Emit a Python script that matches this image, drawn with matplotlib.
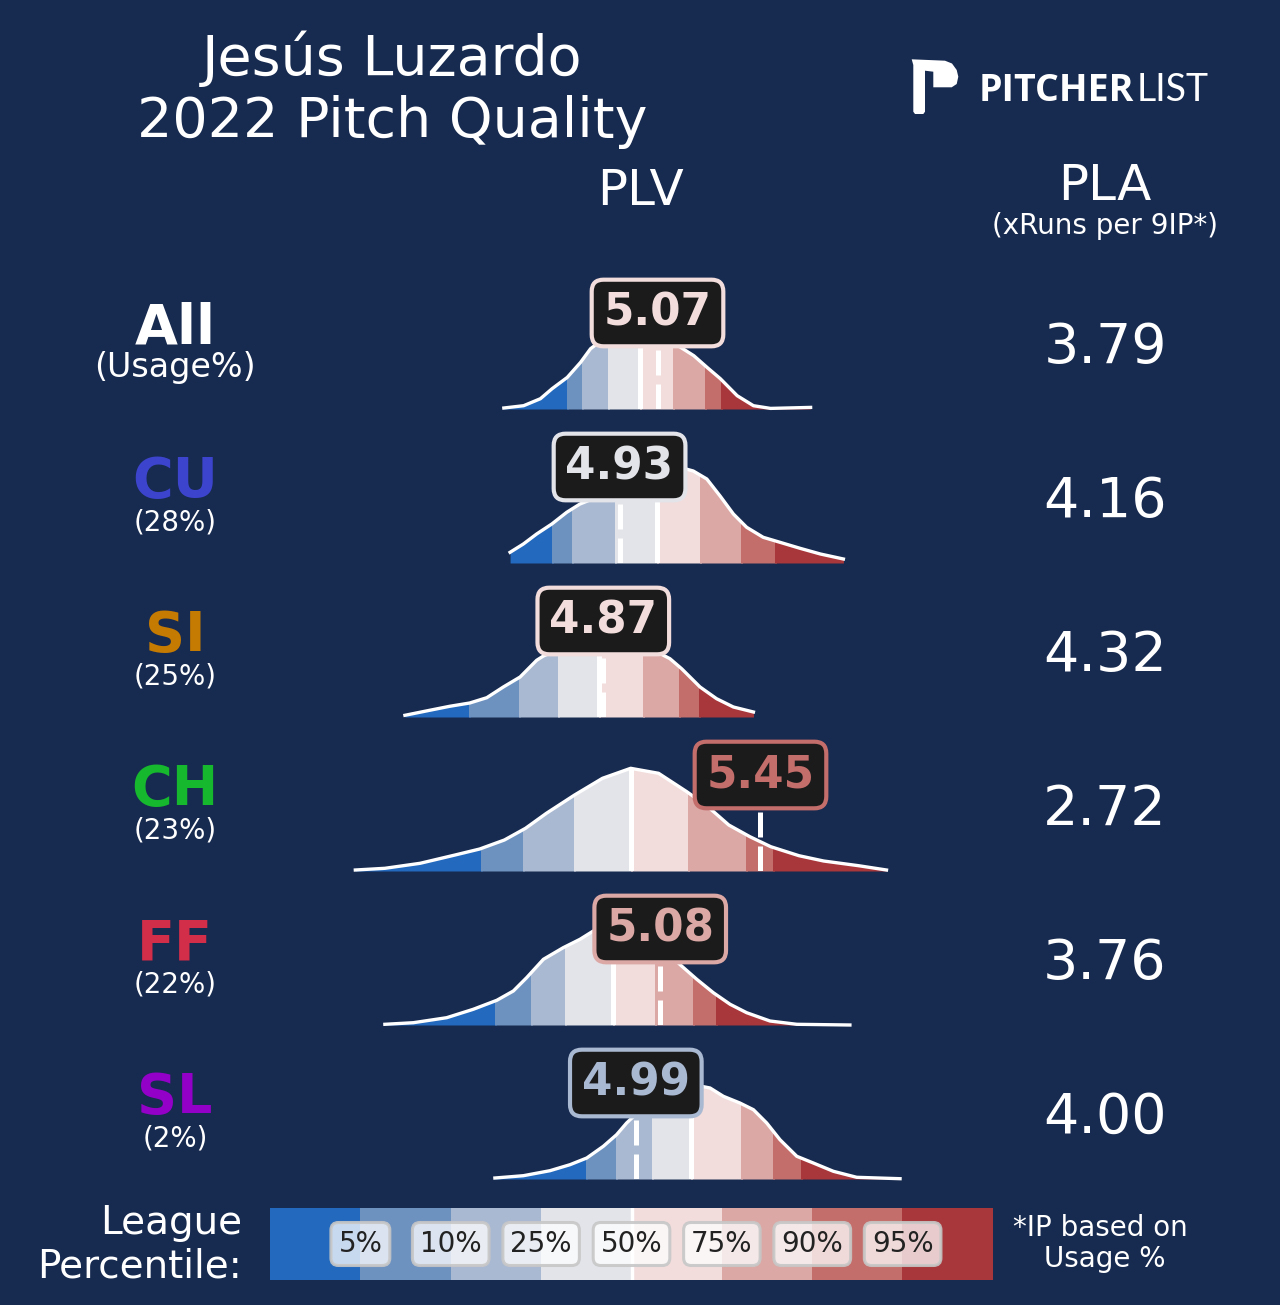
import numpy as np
import matplotlib
matplotlib.use("Agg")
import matplotlib.pyplot as plt
from matplotlib.patches import Polygon, Rectangle
from matplotlib.colors import ListedColormap

# ---------------- data ----------------
player = "Jesús Luzardo"
season = 2022
pitch_types = ["All", "CU", "SI", "CH", "FF", "SL"]
pitch_colors = ["#FFFFFF", "#3C44CD", "#C57A02", "#16B82E", "#D22D49", "#9300C7"]
usage = [None, 28, 25, 23, 22, 2]
plv = [5.07, 4.93, 4.87, 5.45, 5.08, 4.99]
pla = [3.79, 4.16, 4.32, 2.72, 3.76, 4.00]
pct_labels = ["5%", "10%", "25%", "50%", "75%", "90%", "95%"]
band_colors = ["#2369BD", "#6E92C0", "#AAB9D2", "#E3E4EA",
               "#F2DDDC", "#DBA8A5", "#C46E6B", "#A8373B"]

# league percentile cut points (5,10,25,50,75,90,95) of PLV per pitch type
bounds_all = [4.737, 4.792, 4.888, 5.005, 5.126, 5.246, 5.303]
bounds_cu = [4.680, 4.753, 4.913, 5.067, 5.227, 5.378, 5.504]
bounds_si = [4.375, 4.560, 4.702, 4.855, 5.018, 5.150, 5.223]
bounds_ch = [4.417, 4.575, 4.761, 4.971, 5.182, 5.398, 5.495]
bounds_ff = [4.470, 4.602, 4.729, 4.907, 5.061, 5.202, 5.286]
bounds_sl = [4.806, 4.917, 5.049, 5.194, 5.377, 5.495, 5.598]

# league PLV density curves (x = PLV, y = relative density)
dens_x_all = [4.503, 4.576, 4.638, 4.681, 4.737, 4.786, 4.823, 4.89, 4.96, 5.01,
              5.07, 5.13, 5.204, 5.253, 5.302, 5.364, 5.424, 5.487, 5.635]
dens_y_all = [0.010, 0.033, 0.103, 0.203, 0.316, 0.466, 0.603, 0.74, 0.80, 0.81,
              0.77, 0.66, 0.533, 0.416, 0.303, 0.133, 0.033, 0.006, 0.016]
dens_x_cu = [4.526, 4.575, 4.624, 4.680, 4.735, 4.784, 4.858, 4.932, 5.005, 5.079,
             5.135, 5.202, 5.252, 5.301, 5.350, 5.399, 5.460, 5.522, 5.596, 5.671, 5.756]
dens_y_cu = [0.107, 0.19, 0.29, 0.39, 0.507, 0.59, 0.67, 0.76, 0.86, 0.95,
             0.97, 0.92, 0.84, 0.67, 0.49, 0.357, 0.257, 0.207, 0.147, 0.09, 0.04]
dens_x_si = [4.138, 4.229, 4.303, 4.377, 4.440, 4.501, 4.563, 4.624, 4.649, 4.710,
             4.803, 4.876, 4.969, 5.061, 5.116, 5.159, 5.227, 5.288, 5.350, 5.424]
dens_y_si = [0.017, 0.067, 0.107, 0.14, 0.193, 0.30, 0.40, 0.567, 0.61, 0.68,
             0.77, 0.80, 0.76, 0.66, 0.583, 0.483, 0.30, 0.183, 0.10, 0.05]
dens_x_ch = [3.955, 4.064, 4.194, 4.323, 4.414, 4.505, 4.583, 4.660, 4.764, 4.867,
             4.971, 5.074, 5.178, 5.256, 5.333, 5.411, 5.488, 5.592, 5.683, 5.812, 5.915]
dens_y_ch = [0.01, 0.027, 0.077, 0.16, 0.22, 0.31, 0.427, 0.577, 0.76, 0.927,
             1.027, 0.977, 0.793, 0.643, 0.46, 0.343, 0.243, 0.153, 0.10, 0.053, 0.01]
dens_x_ff = [4.064, 4.169, 4.292, 4.390, 4.477, 4.538, 4.587, 4.649, 4.722, 4.784,
             4.833, 4.895, 4.969, 5.042, 5.098, 5.159, 5.215, 5.276, 5.338, 5.399,
             5.485, 5.584, 5.780]
dens_y_ff = [0.007, 0.023, 0.073, 0.157, 0.247, 0.34, 0.473, 0.657, 0.773, 0.857,
             0.94, 0.99, 0.97, 0.86, 0.74, 0.59, 0.457, 0.323, 0.207, 0.123,
             0.04, 0.007, 0.0]
dens_x_sl = [4.470, 4.575, 4.673, 4.747, 4.809, 4.870, 4.919, 4.956, 5.042, 5.116,
             5.190, 5.264, 5.313, 5.374, 5.424, 5.473, 5.522, 5.584, 5.645, 5.719,
             5.805, 5.965]
dens_y_sl = [0.01, 0.033, 0.083, 0.143, 0.21, 0.327, 0.443, 0.56, 0.78, 0.90,
             0.95, 0.91, 0.827, 0.76, 0.693, 0.56, 0.393, 0.227, 0.16, 0.077,
             0.017, 0.003]

bounds = [bounds_all, bounds_cu, bounds_si, bounds_ch, bounds_ff, bounds_sl]
dens_x = [dens_x_all, dens_x_cu, dens_x_si, dens_x_ch, dens_x_ff, dens_x_sl]
dens_y = [dens_y_all, dens_y_cu, dens_y_si, dens_y_ch, dens_y_ff, dens_y_sl]

# ---------------- layout ----------------
BG = "#172A4F"
W, H = 1280, 1305


def fx(px):
    return px / W


def fy(py):
    return 1 - py / H


fig = plt.figure(figsize=(W / 100, H / 100), dpi=100, facecolor=BG)

# title
fig.text(fx(392), fy(75), player, ha="center", va="baseline", fontsize=40, color="white")
fig.text(fx(392), fy(137), f"{season} Pitch Quality", ha="center", va="baseline",
         fontsize=40, color="white")

# logo
logo_px = [(911.7, 59.3), (945, 60.7), (952, 63.5), (956.7, 70), (958.3, 76.7),
           (956.7, 84), (951.7, 87.3), (933.3, 87.3), (933.3, 71.7), (925, 70.7),
           (925, 111.7), (923.3, 114), (915, 114), (913.3, 111.7), (913.3, 65)]
fig.add_artist(Polygon([(fx(a), fy(b)) for a, b in logo_px], closed=True,
                       transform=fig.transFigure, fc="white", ec="none"))
fig.text(fx(979), fy(101), "PITCHER", ha="left", va="baseline", fontsize=27,
         fontweight="bold", color="white", family=["Open Sans", "DejaVu Sans"])
fig.text(fx(1137), fy(101), "LIST", ha="left", va="baseline", fontsize=27,
         fontweight="normal", color="white", family=["Lato", "Open Sans", "DejaVu Sans"])

# column headers
fig.text(fx(641), fy(205), "PLV", ha="center", va="baseline", fontsize=36, color="white")
fig.text(fx(1105), fy(200), "PLA", ha="center", va="baseline", fontsize=36, color="white")
fig.text(fx(1105), fy(234), "(xRuns per 9IP*)", ha="center", va="baseline",
         fontsize=20, color="white")

XMIN, XMAX = 3.9, 6.0
AX_L, AX_R = 340.43, 909.53
YTOP = 1.4

for i, p in enumerate(pitch_types):
    base = 409 + 154 * i
    ax = fig.add_axes([fx(AX_L), fy(base), (AX_R - AX_L) / W, 140 / H])
    ax.set_xlim(XMIN, XMAX)
    ax.set_ylim(0, YTOP)
    ax.axis("off")
    ax.patch.set_alpha(0)

    x = np.array(dens_x[i])
    y = np.array(dens_y[i])
    b = bounds[i]
    edges = [x[0] - 0.01] + list(b) + [x[-1] + 0.01]

    verts = np.column_stack([np.r_[x, x[::-1]], np.r_[y, np.zeros_like(y)]])
    shape = Polygon(verts, closed=True, transform=ax.transData, fc="none", ec="none")

    for k in range(8):
        coll = ax.fill_between(x, 0, y, color=band_colors[k], lw=0, zorder=1)
        rect = Rectangle((edges[k], -0.5), edges[k + 1] - edges[k] + 0.004, 3,
                         transform=ax.transData)
        coll.set_clip_path(rect)

    med = ax.axvline(b[3], color="white", lw=3.6, zorder=2)
    med.set_clip_path(shape)

    ax.axvline(plv[i], ymin=0, ymax=0.96 / YTOP, color="white", lw=3.6,
               ls=(0, (5, 1.8)), zorder=3)
    ax.plot(x, y, color="white", lw=2.4, zorder=4, clip_on=False,
            solid_joinstyle="round")

    bc = band_colors[int(np.searchsorted(b, plv[i]))]
    ax.text(plv[i], 0.96, f"{plv[i]:.2f}", ha="center", va="center", fontsize=31.5,
            fontweight="bold", color=bc, zorder=10,
            bbox=dict(boxstyle="round,pad=0.27", fc="#1B1B1B", ec=bc, lw=3))

    # left labels
    fig.text(fx(175), fy(base - 66), p, ha="center", va="baseline", fontsize=40,
             fontweight="bold", color=pitch_colors[i])
    if usage[i] is None:
        fig.text(fx(175), fy(base - 32), "(Usage%)", ha="center", va="baseline",
                 fontsize=24, color="white")
    else:
        fig.text(fx(175), fy(base - 33), f"({usage[i]}%)", ha="center", va="baseline",
                 fontsize=20, color="white")

    # PLA
    fig.text(fx(1105), fy(base - 46), f"{pla[i]:.2f}", ha="center", va="baseline",
             fontsize=40, color="white")

# legend colour bar
axl = fig.add_axes([fx(270), fy(1280), (993 - 270) / W, 72 / H])
axl.imshow([np.arange(8)], cmap=ListedColormap(band_colors), aspect="auto",
           extent=(-0.5, 7.5, 0, 1), interpolation="nearest")
axl.set_xlim(-0.5, 7.5)
axl.set_ylim(0, 1)
axl.axis("off")
axl.axvline(3.5, color="white", lw=2.5)
for k, lab in enumerate(pct_labels):
    axl.text(k + 0.5, 0.5, lab, ha="center", va="center", fontsize=20, color="#222222",
             bbox=dict(boxstyle="round,pad=0.27", fc=(1, 1, 1, 0.75),
                       ec=(0.78, 0.78, 0.78, 0.9), lw=2.2))

fig.text(fx(242), fy(1234), "League", ha="right", va="baseline", fontsize=28, color="white")
fig.text(fx(242), fy(1277), "Percentile:", ha="right", va="baseline", fontsize=28,
         color="white")
fig.text(fx(1100), fy(1236), "*IP based on", ha="center", va="baseline", fontsize=20,
         color="white")
fig.text(fx(1105), fy(1267), "Usage %", ha="center", va="baseline", fontsize=20,
         color="white")

fig.savefig("out.png", dpi=100, facecolor=BG)
